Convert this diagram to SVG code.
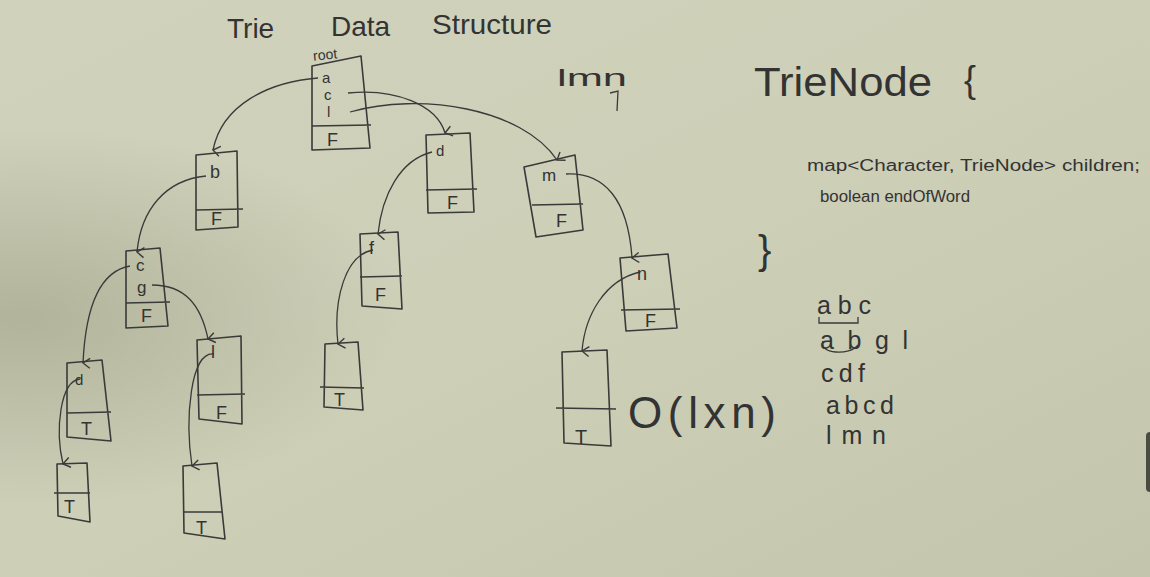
<svg xmlns="http://www.w3.org/2000/svg" width="1150" height="577" viewBox="0 0 1150 577">
  <defs>
    <linearGradient id="bg" x1="0" y1="0" x2="1" y2="1">
      <stop offset="0" stop-color="#d0d2bc"/>
      <stop offset="0.5" stop-color="#cdcfb7"/>
      <stop offset="1" stop-color="#c3c6ac"/>
    </linearGradient>
    <radialGradient id="shade" cx="0.02" cy="0.55" r="0.33">
      <stop offset="0" stop-color="#a4a88d" stop-opacity="0.7"/>
      <stop offset="1" stop-color="#a4a88d" stop-opacity="0"/>
    </radialGradient>
    <marker id="arr" viewBox="0 0 12 12" refX="6" refY="11" markerWidth="12" markerHeight="12" markerUnits="userSpaceOnUse" orient="auto-start-reverse">
      <path d="M1,4 L6,11 L11,4" fill="none" stroke="#3a3a3a" stroke-width="1.4"/>
    </marker>
    <style>
      .box { fill: none; stroke: #3a3a3a; stroke-width: 1.6; stroke-linejoin: round; }
      .con { fill: none; stroke: #3a3a3a; stroke-width: 1.3; }
      .t { font-family: "Liberation Sans", "DejaVu Sans", sans-serif; fill: #333333; }
      .lab { font-size: 18px; }
      .big { font-size: 28px; }
      .w { font-size: 25px; }
    </style>
  </defs>

  <rect x="0" y="0" width="1150" height="577" fill="url(#bg)"/>
  <rect x="0" y="0" width="1150" height="577" fill="url(#shade)"/>
  <rect x="1146" y="432" width="10" height="60" rx="4" fill="#4a4c44"/>

  <!-- Title -->
  <g id="title">
    <text class="t big" x="227" y="38">Trie</text>
    <text class="t big" x="331" y="36">Data</text>
    <text class="t big" x="432" y="34" textLength="120" lengthAdjust="spacingAndGlyphs">Structure</text>
  </g>

  <!-- Note lmn -->
  <g id="note-lmn">
    <text class="t" x="557" y="86" font-size="24" textLength="70" lengthAdjust="spacingAndGlyphs">lmn</text>
    <path class="con" d="M610,93 L618,91 L617,111"/>
  </g>

  <!-- TrieNode class -->
  <g id="trienode-def">
    <text class="t" x="754" y="96" font-size="40" textLength="178" lengthAdjust="spacingAndGlyphs">TrieNode</text>
    <text class="t" x="964" y="92" font-size="36">{</text>
    <text class="t" x="807" y="171" font-size="16" textLength="333" lengthAdjust="spacingAndGlyphs">map&lt;Character, TrieNode&gt; children;</text>
    <text class="t" x="820" y="202" font-size="16" textLength="150" lengthAdjust="spacingAndGlyphs">boolean endOfWord</text>
    <text class="t" x="758" y="264" font-size="40">}</text>
  </g>

  <!-- Word list -->
  <g id="words">
    <text class="t w" x="817" y="314" textLength="54" lengthAdjust="spacing">abc</text>
    <path class="con" d="M819,317 L819,323 L858,323 L858,317"/>
    <text class="t w" x="820" y="349" textLength="88" lengthAdjust="spacing">abgl</text>
    <path class="con" d="M823,341 C818,354 850,356 858,345"/>
    <text class="t w" x="821" y="382" textLength="44" lengthAdjust="spacing">cdf</text>
    <text class="t w" x="826" y="414" textLength="68" lengthAdjust="spacing">abcd</text>
    <text class="t w" x="826" y="444" textLength="60" lengthAdjust="spacing">lmn</text>
  </g>

  <!-- Complexity -->
  <g id="complexity">
    <text class="t" x="628" y="428" font-size="44" textLength="148" lengthAdjust="spacing">O(lxn)</text>
  </g>

  <!-- Connectors -->
  <g id="connectors">
    <path class="con" marker-end="url(#arr)" d="M318,78 C268,82 222,105 213,150"/>
    <path class="con" marker-end="url(#arr)" d="M348,93 C395,88 437,105 445,133"/>
    <path class="con" marker-end="url(#arr)" d="M350,112 C420,92 522,108 557,160"/>
    <path class="con" marker-end="url(#arr)" d="M206,176 C165,180 141,210 137,252"/>
    <path class="con" marker-end="url(#arr)" d="M432,152 C400,160 382,195 378,234"/>
    <path class="con" marker-end="url(#arr)" d="M566,174 C605,172 628,200 632,258"/>
    <path class="con" marker-end="url(#arr)" d="M130,266 C95,272 85,320 83,363"/>
    <path class="con" marker-end="url(#arr)" d="M152,285 C185,285 201,305 208,339"/>
    <path class="con" marker-end="url(#arr)" d="M80,379 C60,381 55,430 63,464"/>
    <path class="con" marker-end="url(#arr)" d="M214,354 C190,351 185,420 192,466"/>
    <path class="con" marker-end="url(#arr)" d="M373,250 C345,255 333,300 338,344"/>
    <path class="con" marker-end="url(#arr)" d="M640,272 C605,280 585,315 582,351"/>
  </g>

  <!-- Nodes -->
  <g id="node-root">
    <path class="box" d="M312,66 L361,56 L370,148 L312,150 Z M312,126 L371,125"/>
    <text class="t" x="313" y="59" font-size="14" transform="rotate(-6 330 55)">root</text>
    <text class="t" font-size="15" x="322" y="83">a</text>
    <text class="t" font-size="15" x="324" y="100">c</text>
    <text class="t" font-size="15" x="327" y="117">l</text>
    <text class="t lab" x="327" y="146">F</text>
  </g>

  <g id="node-b">
    <path class="box" d="M196,155 L237,151 L238,227 L196,230 Z M196,210 L243,209"/>
    <text class="t lab" x="210" y="178">b</text>
    <text class="t lab" x="211" y="225">F</text>
  </g>

  <g id="node-d1">
    <path class="box" d="M426,135 L470,133 L474,212 L428,213 Z M426,190 L477,189"/>
    <text class="t" font-size="15" x="436" y="156">d</text>
    <text class="t lab" x="447" y="209">F</text>
  </g>

  <g id="node-m">
    <path class="box" d="M524,167 L575,155 L583,230 L536,237 Z M532,205 L583,204"/>
    <text class="t" font-size="17" x="542" y="181">m</text>
    <text class="t lab" x="556" y="227">F</text>
  </g>

  <g id="node-cg">
    <path class="box" d="M126,251 L160,248 L168,326 L126,328 Z M126,303 L170,302"/>
    <text class="t" font-size="17" x="136" y="271">c</text>
    <text class="t" font-size="17" x="137" y="293">g</text>
    <text class="t lab" x="141" y="322">F</text>
  </g>

  <g id="node-f">
    <path class="box" d="M360,234 L398,232 L402,309 L362,306 Z M360,277 L402,276"/>
    <text class="t lab" x="369" y="254">f</text>
    <text class="t lab" x="375" y="301">F</text>
  </g>

  <g id="node-n">
    <path class="box" d="M620,258 L668,254 L677,328 L626,331 Z M621,310 L680,309"/>
    <text class="t lab" x="637" y="280">n</text>
    <text class="t lab" x="645" y="327">F</text>
  </g>

  <g id="node-d2">
    <path class="box" d="M67,363 L102,360 L111,441 L67,437 Z M67,413 L111,412"/>
    <text class="t" font-size="15" x="75" y="385">d</text>
    <text class="t lab" x="81" y="435">T</text>
  </g>

  <g id="node-l">
    <path class="box" d="M197,340 L241,336 L242,424 L199,419 Z M197,395 L245,394"/>
    <text class="t lab" x="211" y="358">l</text>
    <text class="t lab" x="216" y="419">F</text>
  </g>

  <g id="node-t-f">
    <path class="box" d="M325,344 L358,342 L363,410 L324,407 Z M320,387 L364,388"/>
    <text class="t lab" x="334" y="406">T</text>
  </g>

  <g id="node-t-n">
    <path class="box" d="M562,352 L607,350 L611,446 L564,443 Z M556,408 L616,409"/>
    <text class="t" font-size="20" x="575" y="444">T</text>
  </g>

  <g id="node-t-d">
    <path class="box" d="M57,464 L87,463 L90,522 L58,516 Z M54,493 L90,493"/>
    <text class="t lab" x="64" y="513">T</text>
  </g>

  <g id="node-t-l">
    <path class="box" d="M183,466 L217,463 L225,539 L184,533 Z M183,512 L222,512"/>
    <text class="t lab" x="196" y="534">T</text>
  </g>
</svg>
